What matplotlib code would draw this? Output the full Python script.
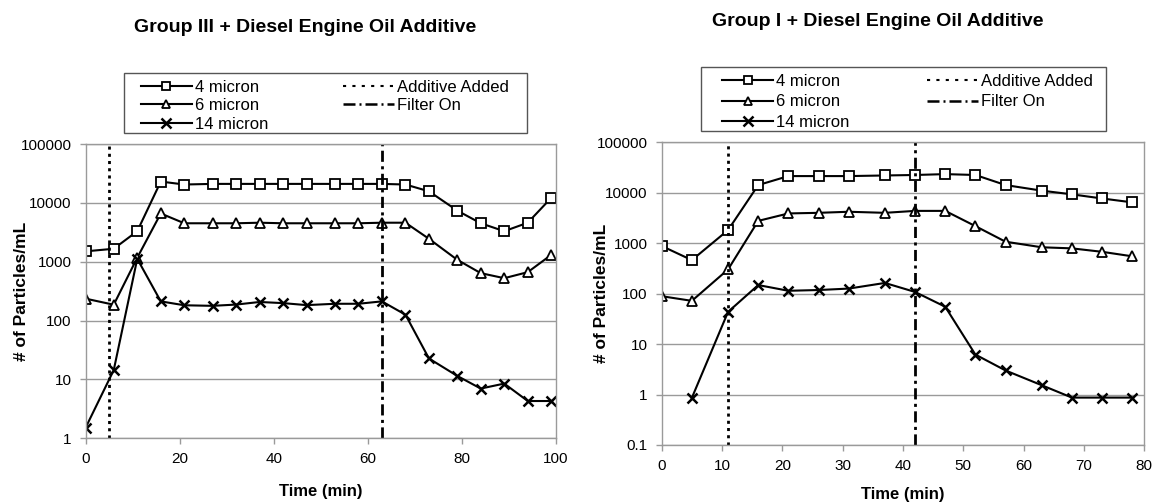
import matplotlib
matplotlib.use('Agg')
import matplotlib.pyplot as plt
from matplotlib.lines import Line2D
from matplotlib.patches import Rectangle
from matplotlib.ticker import FuncFormatter, NullLocator

plt.rcParams['font.family'] = ['Liberation Sans', 'DejaVu Sans']

# ---------------------------------------------
# DATA
# ---------------------------------------------
# Group III + Diesel Engine Oil Additive
t_g3 = [0, 6, 11, 16, 21, 27, 32, 37, 42, 47, 53, 58, 63, 68, 73, 79, 84, 89, 94, 99]
g3_4um = [1500, 1660, 3300, 23000, 20500, 21000, 21000, 21000, 21000, 21000,
          21000, 21000, 21000, 20500, 15700, 7400, 4500, 3300, 4600, 12200]
g3_6um = [236, 186, 1170, 6600, 4500, 4500, 4500, 4600, 4500, 4500,
          4500, 4500, 4600, 4600, 2450, 1080, 640, 525, 665, 1310]
g3_14um = [1.5, 14.4, 1120, 212, 182, 178, 187, 207, 198, 183,
           193, 193, 212, 126, 22.7, 11.5, 7.0, 8.5, 4.3, 4.3]
g3_additive = 5
g3_filter = 63

# Group I + Diesel Engine Oil Additive
t_g1 = [0, 5, 11, 16, 21, 26, 31, 37, 42, 47, 52, 57, 63, 68, 73, 78]
g1_4um = [880, 462, 1820, 14200, 21400, 21400, 21400, 22000, 22500, 23400,
          22500, 14200, 11000, 9300, 7700, 6450]
g1_6um = [89, 72, 302, 2770, 3890, 4000, 4200, 4000, 4370, 4370,
          2180, 1070, 830, 790, 675, 550]
t_g1_14 = [5, 11, 16, 21, 26, 31, 37, 42, 47, 52, 57, 63, 68, 73, 78]
g1_14um = [0.86, 43.5, 148, 114, 118, 126, 163, 108, 55, 6.2, 3.0, 1.53, 0.87, 0.87, 0.87]
g1_additive = 11
g1_filter = 42

titles = ['Group III + Diesel Engine Oil Additive', 'Group I + Diesel Engine Oil Additive']
series_labels = ['4 micron', '6 micron', '14 micron']
event_labels = ['Additive Added', 'Filter On']

# ---------------------------------------------
# STYLE
# ---------------------------------------------
GRID = '#9a9a9a'
DOTTED = (0, (1.1, 1.5))
DASHDOT = (0, (4.0, 1.6, 1.1, 1.6))
sq = dict(color='black', lw=1.5, marker='s', ms=6.5, mfc='white', mec='black', mew=1.3)
tri = dict(color='black', lw=1.5, marker='^', ms=6.5, mfc='white', mec='black', mew=1.3)
xx = dict(color='black', lw=1.5, marker='x', ms=7, mec='black', mew=1.8)

W, H = 1156, 503
fig = plt.figure(figsize=(W / 100, H / 100), dpi=100)


def fx(px):
    return px / W


def fy(py):
    return 1 - py / H


def px_axes(x0, x1, ytop, ybot):
    return fig.add_axes([fx(x0), fy(ybot), (x1 - x0) / W, (ybot - ytop) / H])


def style_axes(ax, xlim, xticks, ylim, xlab_y, ylab_x):
    ax.set_yscale('log')
    ax.set_xlim(*xlim)
    ax.set_ylim(*ylim)
    ax.set_xticks(xticks)
    ax.yaxis.set_minor_locator(NullLocator())
    ax.yaxis.set_major_formatter(FuncFormatter(lambda v, _: f'{v:g}'))
    ax.grid(axis='y', color=GRID, lw=1)
    ax.set_axisbelow(True)
    for s in ax.spines.values():
        s.set_color(GRID)
        s.set_linewidth(1)
    ax.tick_params(axis='both', colors=GRID, labelcolor='black', labelsize=11,
                   length=4, width=1, direction='out', pad=6)
    ax.set_xlabel('Time (min)', fontsize=12, fontweight='bold', va='center')
    ax.xaxis.set_label_coords(0.5, xlab_y)
    ax.set_ylabel('# of Particles/mL', fontsize=12.5, fontweight='bold', va='center')
    ax.yaxis.set_label_coords(ylab_x, 0.5)


def add_legend(box, col_x, rows, hlen=51):
    # Excel-style legend: frame, 3 series in column 1, 2 events in column 2
    x0, x1, y0, y1 = box
    fig.patches.append(Rectangle((fx(x0), fy(y1)), (x1 - x0) / W, (y1 - y0) / H,
                                 transform=fig.transFigure, fill=False,
                                 edgecolor='#555555', lw=1))
    styles = [{**sq, 'ms': 6}, {**tri, 'ms': 5.5}, {**xx, 'ms': 6.5},
              dict(color='black', lw=1.5, ls=(0, (1.5, 3))),
              dict(color='black', lw=1.8, ls=(0, (4.8, 1.6, 0.8, 1.6)))]
    labels = series_labels + event_labels
    slots = [(0, 0), (0, 1), (0, 2), (1, 0), (1, 1)]
    for st, lab, (c, r) in zip(styles, labels, slots):
        hx = col_x[c]
        ry = fy(rows[r])
        fig.add_artist(Line2D([fx(hx), fx(hx + hlen / 2), fx(hx + hlen)], [ry, ry, ry],
                              transform=fig.transFigure, markevery=[1], **st))
        fig.text(fx(hx + hlen + 3), ry, lab, fontsize=12, ha='left', va='center_baseline')


# ---------------------------------------------
# LEFT: Group III
# ---------------------------------------------
ax1 = px_axes(85.5, 556, 144, 438.3)
ax1.plot(t_g3, g3_4um, **sq)
ax1.plot(t_g3, g3_6um, **tri)
ax1.plot(t_g3, g3_14um, **xx)
ax1.axvline(g3_additive, color='black', lw=2, ls=DOTTED)
ax1.axvline(g3_filter, color='black', lw=2, ls=DASHDOT)
style_axes(ax1, (0, 100), range(0, 101, 20), (1, 100000), -0.181, -0.135)
fig.text(fx(305), fy(27), titles[0], ha='center', va='center',
         fontsize=14, fontweight='bold')
add_legend((124, 527, 73, 133), (141, 343), (86, 104.5, 123))

# ---------------------------------------------
# RIGHT: Group I
# ---------------------------------------------
ax2 = px_axes(661.7, 1144.3, 142.3, 445)
ax2.plot(t_g1, g1_4um, **sq)
ax2.plot(t_g1, g1_6um, **tri)
ax2.plot(t_g1_14, g1_14um, **xx)
ax2.axvline(g1_additive, color='black', lw=2, ls=DOTTED)
ax2.axvline(g1_filter, color='black', lw=2, ls=DASHDOT)
style_axes(ax2, (0, 80), range(0, 81, 10), (0.1, 100000), -0.165, -0.124)
fig.text(fx(878), fy(22), titles[1], ha='center', va='center',
         fontsize=14, fontweight='bold')
add_legend((701, 1106, 67, 131), (722, 927), (80, 100.5, 121))

fig.savefig('out.png', dpi=100)
